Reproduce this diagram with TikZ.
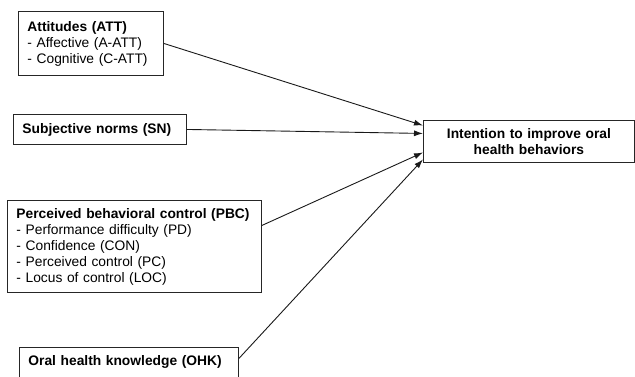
\documentclass[tikz,border=0pt]{standalone}
\usepackage{fontspec}
\setmainfont{Liberation Sans}
\usetikzlibrary{positioning,calc,arrows.meta}

\begin{document}
\begin{tikzpicture}[x=1pt,y=-1pt,>={Latex[length=9pt,width=6pt]},
			line width=0.9pt,
			main node/.style={draw=black!85, rectangle, align=left, anchor=north west,
				inner xsep=9pt, inner ysep=0pt,
				font=\fontsize{13.8}{16}\selectfont},
			link/.style={->, black!90, line width=0.9pt}]

			\useasboundingbox (0,0) rectangle (635,376);

			\node[main node,text width=127pt,minimum height=64pt] (1) at (18,11)
				{\textbf{Attitudes (ATT)}\\- Affective (A-ATT)\\- Cognitive (C-ATT)};
			\node[main node,text width=155pt,minimum height=30pt] (2) at (13,114)
				{\textbf{Subjective norms (SN)}};
			\node[main node,text width=236pt,minimum height=92pt] (3) at (7,200)
				{\textbf{Perceived behavioral control (PBC)}\\- Performance difficulty (PD)\\- Confidence (CON)\\- Perceived control (PC)\\- Locus of control (LOC)};
			\node[main node,text width=201pt,minimum height=30pt] (4) at (19,347)
				{\textbf{Oral health knowledge (OHK)}};
			\node[main node,align=center,text width=193pt,minimum height=42pt] (5) at (423,120)
				{\textbf{Intention to improve oral}\\\textbf{health behaviors}};

			\draw[link] (1.east) -- ([yshift=16pt]5.west);
			\draw[link] (2.east) -- ([yshift=8pt]5.west);
			\draw[link] ([yshift=21pt]3.east) -- ([yshift=-11pt]5.west);
			\draw[link] ([yshift=4pt]4.east) -- ([yshift=-18pt]5.west);
		\end{tikzpicture}
\end{document}
